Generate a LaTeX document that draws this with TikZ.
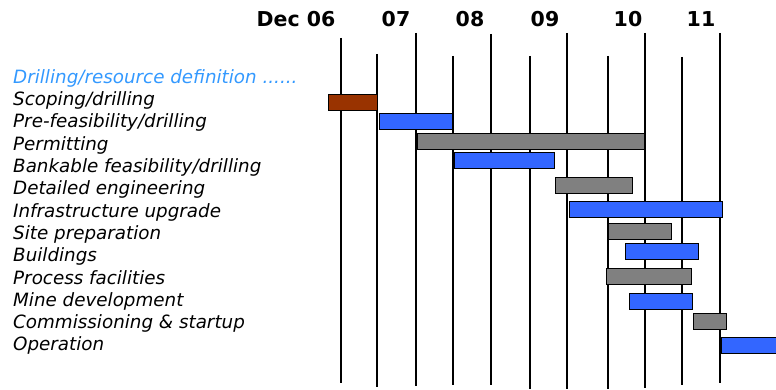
\documentclass[tikz,border=0pt]{standalone}
\usepackage{fontspec}
\setsansfont{DejaVu Sans}
\definecolor{drillblue}{RGB}{51,153,255}
\definecolor{barblue}{RGB}{51,102,255}
\definecolor{bargray}{RGB}{128,128,128}
\definecolor{barbrown}{RGB}{153,51,0}
\tikzset{
  task/.style={font=\sffamily\itshape\fontsize{18.3}{21}\selectfont, anchor=base west, inner sep=0pt},
  yearlbl/.style={font=\sffamily\bfseries\fontsize{20.5}{24}\selectfont, anchor=base, inner sep=0pt},
  bar/.style={draw=black, line width=0.9pt},
}
\begin{document}
\begin{tikzpicture}[x=1pt,y=-1pt]
			\useasboundingbox (0,0) rectangle (776,390);
			% year labels
			\node[yearlbl] (y06) at (296,27) {Dec 06};
			\node[yearlbl] (y07) at (396,27) {07};
			\node[yearlbl] (y08) at (470,27) {08};
			\node[yearlbl] (y09) at (545,27) {09};
			\node[yearlbl] (y10) at (628,27) {10};
			\node[yearlbl] (y11) at (701,27) {11};
			% grid lines
			\foreach \x/\t/\b in {341/38/383,377/54/387,416/33/386,453/56/385,491/34/385,530/56/389,567/33/389,608/56/389,645/33/388,682/57/385,720/33/383}
			\draw[line width=2.2pt] (\x,\t)--(\x,\b);
			% tasks
			\node[task, text=drillblue] (t0) at (13,83.3) {Drilling/resource definition ......};
			\foreach \n/\lbl in {1/{Scoping/drilling},2/{Pre-feasibility/drilling},3/Permitting,4/{Bankable feasibility/drilling},5/Detailed engineering,6/Infrastructure upgrade,7/Site preparation,8/Buildings,9/Process facilities,10/Mine development,11/Commissioning \& startup,12/Operation}
			\node[task] (t\n) at (13,83.3+22.3*\n) {\lbl};
			% bars
			\foreach \a/\b/\y/\c in {328/377/94/barbrown,379/452/113/barblue,417/644/133/bargray,454/554/152/barblue,555/632/177/bargray,569/722/201/barblue,608/671/223/bargray,625/698/243/barblue,606/691/268/bargray,629/692/293/barblue,693/726/313/bargray,721/780/337/barblue}
			\draw[bar, fill=\c] (\a,\y) rectangle (\b,\y+16.5);
		\end{tikzpicture}
\end{document}
